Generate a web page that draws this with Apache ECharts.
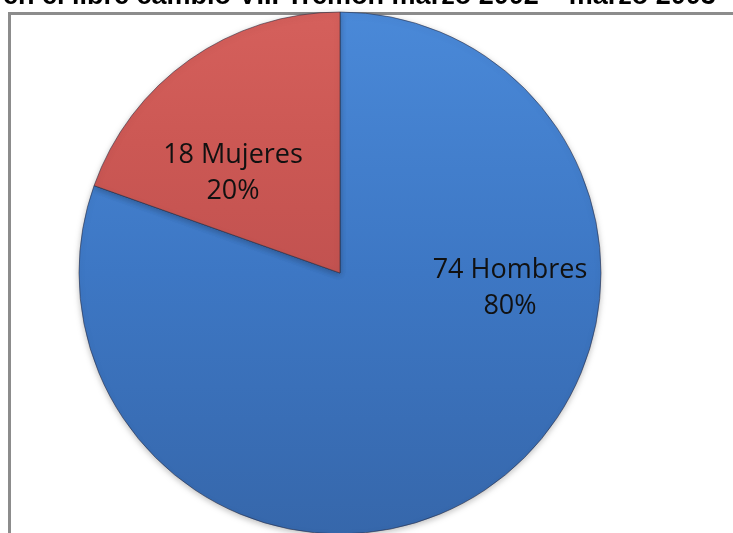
<!DOCTYPE html>
<html>
<head>
<meta charset="utf-8">
<script src="https://cdn.jsdelivr.net/npm/echarts@6/dist/echarts.min.js"></script>
<style>
  html, body { margin: 0; padding: 0; background: #fff; }
  #chart { width: 733px; height: 533px; }
</style>
</head>
<body>
<div id="chart"></div>
<script>
document.addEventListener('DOMContentLoaded', function () {
    const myChart = echarts.init(document.getElementById('chart'));

    // datos
    const categories = ['Hombres', 'Mujeres'];
    const counts = [74, 18];
    const titleText = 'en el libre cambio VIII Tremon marzo 2002 – marzo 2003';

    // colores de cada porción (arriba claro, abajo oscuro)
    const colors = [
        ['#4a89d8', '#3d77c4', '#3667ab'],
        ['#d5605c', '#cc5854', '#c25250']
    ];
    const labelOffsets = [[93, -94], [-30, 9]];

    const pieData = categories.map(function (name, i) {
        return {
            name: name,
            value: counts[i],
            itemStyle: {
                color: new echarts.graphic.LinearGradient(0, 0, 0, 1, [
                    { offset: 0, color: colors[i][0] },
                    { offset: 0.5, color: colors[i][1] },
                    { offset: 1, color: colors[i][2] }
                ])
            },
            label: { offset: labelOffsets[i] }
        };
    });

    const option = {
        animation: false,
        title: {
            text: titleText,
            left: -2,
            top: -22,
            textStyle: {
                fontFamily: 'Liberation Sans',
                fontWeight: 'bold',
                fontSize: 27,
                color: '#000'
            }
        },
        graphic: [{
            type: 'rect',
            shape: { x: 9.5, y: 13.5, width: 740, height: 540 },
            style: { fill: 'none', stroke: '#8c8c8c', lineWidth: 3 },
            z: -1
        }],
        series: [{
            type: 'pie',
            center: [340, 273],
            radius: 261,
            startAngle: 90,
            clockwise: true,
            percentPrecision: 0,
            silent: true,
            data: pieData,
            itemStyle: {
                borderColor: 'rgba(40,40,60,0.55)',
                borderWidth: 1,
                shadowBlur: 6,
                shadowColor: 'rgba(0,0,0,0.25)',
                shadowOffsetY: 2
            },
            label: {
                position: 'inside',
                formatter: '{c} {b}\n{d}%',
                fontFamily: 'Open Sans',
                fontSize: 27,
                lineHeight: 36,
                color: '#111'
            },
            labelLine: { show: false }
        }]
    };

    myChart.setOption(option);
});
</script>
</body>
</html>
